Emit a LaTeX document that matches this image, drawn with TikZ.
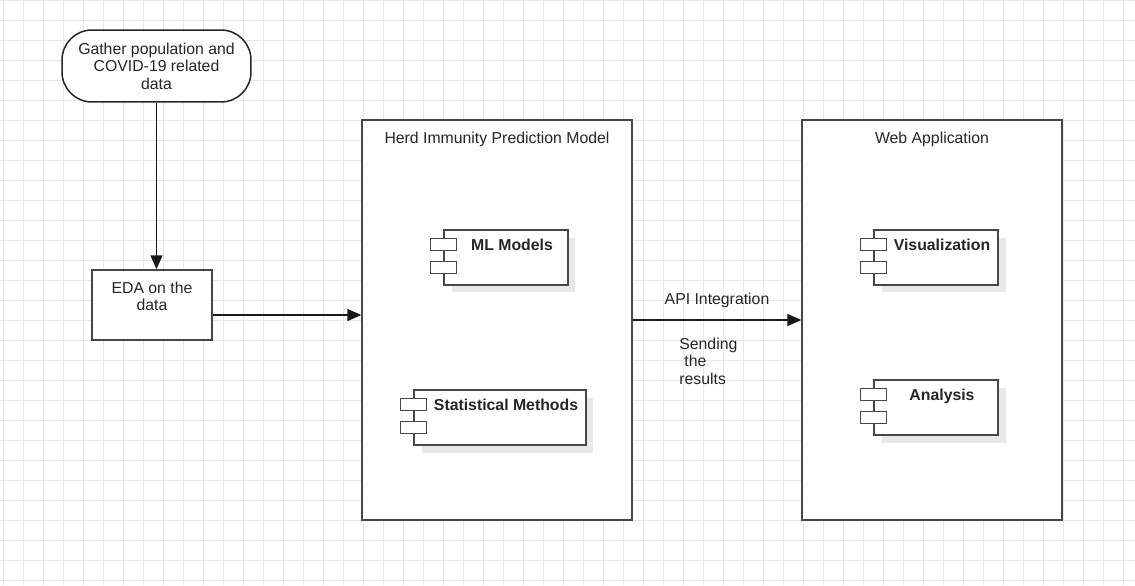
\documentclass[tikz,border=0pt]{standalone}
\usepackage{fontspec}
\setmainfont{Liberation Sans}
\usetikzlibrary{arrows.meta,shadows}

\begin{document}
\begin{tikzpicture}[x=0.02cm,y=-0.02cm,
  every node/.style={font=\fontsize{9}{9.9}\selectfont,text=black!85},
  gridline/.style={draw=black!9,line width=0.5pt},
  box/.style={draw=black!72,line width=0.85pt,fill=white,inner sep=0pt},
  comp/.style={box,minimum height=1.1cm,
    drop shadow={shadow xshift=0.15cm,shadow yshift=-0.15cm,fill=black!9,opacity=1}},
  port/.style={draw=black!72,line width=0.85pt,fill=white},
  flow/.style={line width=0.85pt,draw=black!90,-{Triangle[length=0.28cm,width=0.24cm]}},
  title/.style={anchor=north,inner sep=0pt,yshift=-0.24cm,align=center},
  ctitle/.style={anchor=base,inner sep=0pt,yshift=-0.42cm,xshift=0.12cm,
    font=\fontsize{9}{9.9}\selectfont\bfseries}
]
\useasboundingbox (0,0) rectangle (1135,585);
\fill[white] (0,0) rectangle (1135,585);

% background grid
\foreach \x in {3,23,...,1135} \draw[gridline] (\x,0) -- (\x,585);
\foreach \y in {0,20,...,585} \draw[gridline] (0,\y) -- (1135,\y);

% data side
\node[box,draw=black!85,rounded corners=0.6cm,minimum width=3.78cm,minimum height=1.44cm,
  align=center] (gather) at (156.5,66)
  {Gather population and\\COVID-19 related\\data};
\node[box,minimum width=2.4cm,minimum height=1.4cm,
  label={[title]north:EDA on the\\data}] (eda) at (152,305) {};

% the two big blocks
\node[box,minimum width=5.4cm,minimum height=8cm,
  label={[title]north:Herd Immunity Prediction Model}] (model) at (497,320) {};
\node[box,minimum width=5.2cm,minimum height=8cm,
  label={[title]north:Web Application}] (web) at (932,320) {};

% components
\node[comp,minimum width=2.48cm,label={[ctitle]north:ML Models}] (ml) at (506,257.5) {};
\node[comp,minimum width=3.44cm,label={[ctitle]north:Statistical Methods}] (stat) at (500,417.5) {};
\node[comp,minimum width=2.48cm,label={[ctitle]north:Visualization}] (vis) at (936,257.5) {};
\node[comp,minimum width=2.48cm,label={[ctitle]north:Analysis}] (ana) at (936,407.5) {};
\foreach \c in {ml,stat,vis,ana}{
  \draw[port] ([xshift=-0.26cm,yshift=-0.18cm]\c.north west) rectangle ++(26,12);
  \draw[port] ([xshift=-0.26cm,yshift=-0.64cm]\c.north west) rectangle ++(26,12);
}

% connectors
\coordinate (edaout) at ([yshift=-0.2cm]eda.east);
\draw[flow] (gather.south) -- (gather.south |- eda.north);
\draw[flow] (edaout) -- (edaout -| model.west);
\draw[flow] (model.east) -- node[above=0.23cm,inner sep=0pt] (api) {API Integration} (web.west);
\node[anchor=west,align=left,inner sep=0pt,font=\fontsize{9}{10}\selectfont] (send)
  at (679,361) {Sending\\\hspace*{0.1cm}the\\results};
\end{tikzpicture}
\end{document}
